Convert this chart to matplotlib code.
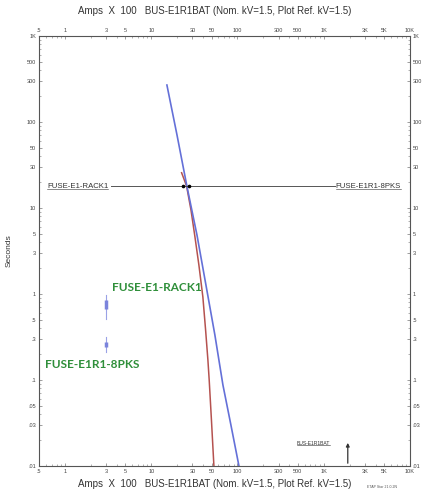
import numpy as np
import matplotlib
matplotlib.use("Agg")
import matplotlib.pyplot as plt
from matplotlib.ticker import FixedLocator, LogLocator, NullFormatter

#========= Data ===========
x_ticks = [0.5, 1, 3, 5, 10, 30, 50, 100, 300, 500, 1000, 3000, 5000, 10000]
x_labels = ['.5', '1', '3', '5', '10', '30', '50', '100', '300', '500', '1K', '3K', '5K', '10K']
y_ticks = [0.01, 0.03, 0.05, 0.1, 0.3, 0.5, 1, 3, 5, 10, 30, 50, 100, 300, 500, 1000]
y_labels = ['.01', '.03', '.05', '.1', '.3', '.5', '1', '3', '5', '10', '30', '50', '100', '300', '500', '1K']

# FUSE-E1R1-8PKS curve (blue)
blue_amps = [15.2, 19.9, 25.9, 33.9, 43.1, 54.7, 67.8, 83.9, 104.0]
blue_sec = [269, 70.6, 18.0, 4.86, 1.27, 0.334, 0.0875, 0.030, 0.01]

# FUSE-E1-RACK1 curve (red)
red_amps = [22.5, 25.7, 28.9, 32.1, 35.7, 39.7, 42.7, 45.4, 47.0, 49.9, 53.3]
red_sec = [25.7, 18.0, 9.48, 4.64, 2.17, 0.923, 0.381, 0.171, 0.1, 0.0343, 0.01]

# small marks at 3 x 100 A
mark_amps = [3.0, 3.0]
mark_thin = [(0.51, 0.97), (0.21, 0.316)]
mark_thick = [(0.67, 0.84), (0.24, 0.277)]

hline_sec = 18.0
hline_amps = [3.4, 1345]
cross_amps = [23.1, 27.4]

bus_amps = 1900
bus_top = 0.02

title = 'Amps  X  100   BUS-E1R1BAT (Nom. kV=1.5, Plot Ref. kV=1.5)'

#========= Figure ===========
plt.rcParams['font.family'] = ['Liberation Sans', 'DejaVu Sans']
fig = plt.figure(figsize=(4.29, 4.93), dpi=100)
ax = fig.add_axes([0.0909, 0.0548, 0.8648, 0.8722])
ax.set_xscale('log')
ax.set_yscale('log')
ax.set_xlim(0.5, 10000)
ax.set_ylim(0.01, 1000)

for sp in ax.spines.values():
    sp.set_color('#555555')
    sp.set_linewidth(0.8)

ax.xaxis.set_major_locator(FixedLocator(x_ticks))
ax.set_xticklabels(x_labels)
ax.yaxis.set_major_locator(FixedLocator(y_ticks))
ax.set_yticklabels(y_labels)
ax.xaxis.set_minor_locator(LogLocator(base=10, subs=np.arange(1, 10)))
ax.yaxis.set_minor_locator(LogLocator(base=10, subs=np.arange(1, 10)))
ax.xaxis.set_minor_formatter(NullFormatter())
ax.yaxis.set_minor_formatter(NullFormatter())
ax.tick_params(which='both', direction='in', top=True, right=True,
               labeltop=True, labelright=True, color='#777777',
               labelsize=4, labelcolor='#444444', pad=2)
ax.tick_params(which='major', length=2.5, width=0.5)
ax.tick_params(which='minor', length=1.5, width=0.4)

fig.text(0.5, 0.978, title, ha='center', va='center', fontsize=7, color='#333333')
fig.text(0.5, 0.018, title, ha='center', va='center', fontsize=7, color='#333333')
ax.set_ylabel('Seconds', fontsize=6, color='#333333', labelpad=10)
fig.text(0.89, 0.012, 'ETAP Star 21.0.2N', ha='center', va='center', fontsize=2.5, color='#555555')

# curves
ax.plot(red_amps, red_sec, color='#b5524f', lw=1.1, solid_joinstyle='round')
ax.plot(blue_amps, blue_sec, color='#6470d8', lw=1.2, solid_joinstyle='round')

# marks
for xm, (a, b) in zip(mark_amps, mark_thin):
    ax.plot([xm, xm], [a, b], color='#9aa2e6', lw=0.8)
for xm, (a, b) in zip(mark_amps, mark_thick):
    ax.plot([xm, xm], [a, b], color='#7b84dc', lw=2.5, solid_capstyle='butt')

# horizontal line and labels
ax.plot(hline_amps, [hline_sec, hline_sec], color='#555555', lw=0.7)
ax.plot(cross_amps, [hline_sec, hline_sec], 'o', color='black', ms=1.6)
t1 = ax.text(0.62, hline_sec, 'FUSE-E1-RACK1', fontsize=5.6, color='#333333', ha='left', va='center')
t2 = ax.text(1380, hline_sec, 'FUSE-E1R1-8PKS', fontsize=5.6, color='#333333', ha='left', va='center')

# bus marker
ax.annotate('', xy=(bus_amps, bus_top), xytext=(bus_amps, 0.01),
            arrowprops=dict(arrowstyle='-|>', color='#333333', lw=0.9, mutation_scale=5))
t3 = ax.text(760, 0.0185, 'BUS-E1R1BAT', fontsize=3.6, color='#333333', ha='center', va='center')

# green labels
ax.text(3.5, 1.2, 'FUSE-E1-RACK1', fontsize=8.5, fontweight='bold', color='#2f8f3a',
        family=['Lato', 'DejaVu Sans'], ha='left', va='center')
ax.text(0.587, 0.153, 'FUSE-E1R1-8PKS', fontsize=8.5, fontweight='bold', color='#2f8f3a',
        family=['Lato', 'DejaVu Sans'], ha='left', va='center')

# underline the small labels
fig.canvas.draw()
inv = fig.transFigure.inverted()
for t in (t1, t2, t3):
    bb = t.get_window_extent()
    (x0, y0), (x1, y1) = inv.transform([[bb.x0, bb.y0], [bb.x1, bb.y0]])
    fig.add_artist(plt.Line2D([x0, x1], [y0 + 0.001, y1 + 0.001], color='#333333', lw=0.4))

fig.savefig('out.png', dpi=100)
